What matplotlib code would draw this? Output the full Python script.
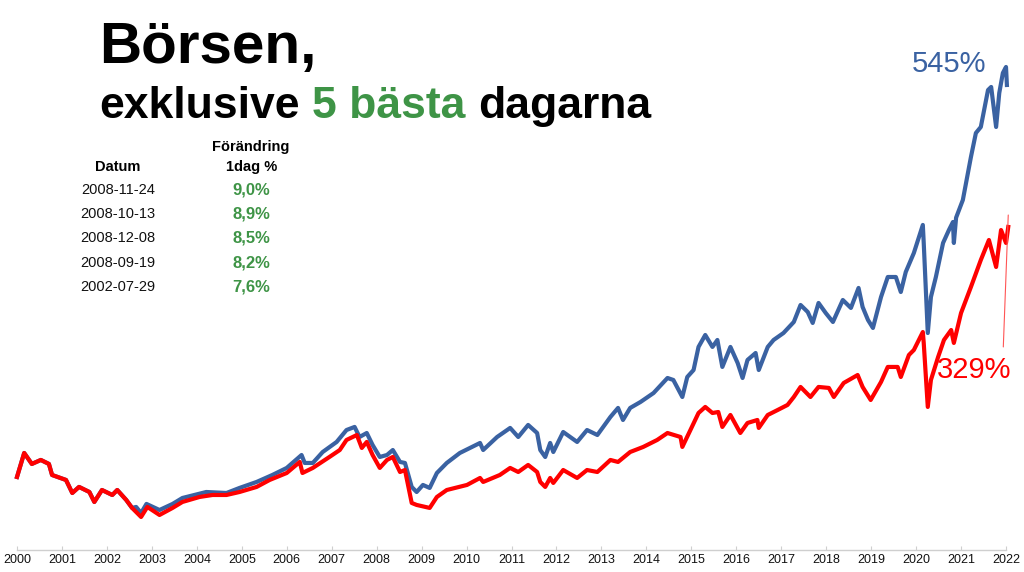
import numpy as np
import matplotlib.pyplot as plt

plt.rcParams['font.family'] = ['Liberation Sans', 'DejaVu Sans']

# index, 2003 low = 100
red_year = [2000.00, 2000.16, 2000.33, 2000.53, 2000.71, 2000.78, 2001.09, 2001.23, 2001.38, 2001.61,
            2001.72, 2001.89, 2002.12, 2002.23, 2002.43, 2002.56, 2002.76, 2002.90, 2003.17, 2003.46,
            2003.68, 2004.06, 2004.35, 2004.66, 2004.95, 2005.33, 2005.62, 2006.00, 2006.29, 2006.35,
            2006.58, 2006.95, 2007.18, 2007.33, 2007.56, 2007.67, 2007.78, 2007.91, 2008.07, 2008.23,
            2008.36, 2008.52, 2008.63, 2008.78, 2008.89, 2009.18, 2009.34, 2009.56, 2010.01, 2010.30,
            2010.37, 2010.74, 2010.97, 2011.15, 2011.37, 2011.57, 2011.64, 2011.75, 2011.86, 2011.93,
            2012.15, 2012.46, 2012.68, 2012.91, 2013.20, 2013.37, 2013.64, 2013.93, 2014.24, 2014.47,
            2014.76, 2014.80, 2014.98, 2015.16, 2015.31, 2015.47, 2015.60, 2015.69, 2015.87, 2016.09,
            2016.25, 2016.47, 2016.50, 2016.70, 2016.92, 2017.14, 2017.28, 2017.43, 2017.65, 2017.83,
            2018.06, 2018.17, 2018.39, 2018.70, 2018.81, 2018.99, 2019.22, 2019.37, 2019.59, 2019.66,
            2019.84, 2019.95, 2020.15, 2020.17, 2020.26, 2020.33, 2020.49, 2020.62, 2020.78, 2020.84,
            2021.00, 2021.22, 2021.44, 2021.62, 2021.78, 2021.89, 2022.00, 2022.05]
red_val = [145.8, 174.7, 161.5, 166.3, 161.5, 148.2, 142.2, 126.5, 133.8, 127.7,
           115.7, 130.1, 124.1, 130.1, 118.1, 108.5, 97.6, 109.7, 100.0, 108.5,
           115.7, 121.7, 124.1, 124.1, 127.7, 133.8, 142.2, 150.6, 163.9, 150.6,
           156.7, 169.9, 178.3, 190.4, 196.4, 180.8, 188.0, 172.3, 156.7, 166.3,
           169.9, 151.8, 154.2, 114.5, 112.1, 108.5, 121.7, 130.1, 136.2, 144.6,
           139.8, 148.2, 156.7, 151.8, 160.3, 151.8, 139.8, 133.8, 144.6, 138.6,
           154.2, 144.6, 154.2, 151.8, 166.3, 163.9, 175.9, 182.0, 190.4, 198.8,
           194.0, 182.0, 202.4, 222.9, 230.2, 222.9, 224.1, 206.1, 220.5, 198.8,
           210.9, 214.5, 204.9, 220.5, 226.5, 232.6, 242.2, 254.3, 242.2, 254.3,
           253.1, 242.2, 259.1, 268.7, 254.3, 238.6, 260.3, 278.4, 278.4, 266.3,
           292.8, 298.8, 320.5, 307.3, 230.2, 262.7, 290.4, 310.9, 322.9, 307.3,
           343.4, 374.8, 407.3, 431.4, 398.9, 443.4, 427.8, 447.1]

blue_year = [2000.00, 2000.16, 2000.33, 2000.53, 2000.71, 2000.78, 2001.09, 2001.23, 2001.38, 2001.61,
             2001.72, 2001.89, 2002.12, 2002.23, 2002.43, 2002.56, 2002.65, 2002.76, 2002.88, 2003.17,
             2003.46, 2003.68, 2004.21, 2004.66, 2004.95, 2005.33, 2005.68, 2006.00, 2006.33, 2006.40,
             2006.58, 2006.80, 2007.11, 2007.33, 2007.51, 2007.62, 2007.78, 2007.91, 2008.07, 2008.23,
             2008.36, 2008.52, 2008.63, 2008.78, 2008.89, 2009.03, 2009.18, 2009.34, 2009.56, 2009.85,
             2010.30, 2010.37, 2010.68, 2010.97, 2011.15, 2011.37, 2011.57, 2011.64, 2011.75, 2011.86,
             2011.93, 2012.15, 2012.46, 2012.68, 2012.91, 2013.20, 2013.37, 2013.48, 2013.64, 2013.87,
             2014.16, 2014.47, 2014.60, 2014.80, 2014.91, 2015.05, 2015.16, 2015.31, 2015.47, 2015.58,
             2015.69, 2015.87, 2016.03, 2016.14, 2016.25, 2016.43, 2016.50, 2016.70, 2016.83, 2017.05,
             2017.28, 2017.43, 2017.59, 2017.70, 2017.83, 2017.99, 2018.15, 2018.37, 2018.55, 2018.72,
             2018.81, 2018.93, 2019.04, 2019.22, 2019.37, 2019.55, 2019.66, 2019.77, 2019.95, 2020.15,
             2020.17, 2020.26, 2020.33, 2020.44, 2020.60, 2020.73, 2020.82, 2020.84, 2020.89, 2021.04,
             2021.22, 2021.33, 2021.44, 2021.60, 2021.67, 2021.78, 2021.85, 2021.93, 2022.00, 2022.02]
blue_val = [145.8, 174.7, 161.5, 166.3, 161.5, 148.2, 142.2, 126.5, 133.8, 127.7,
            115.7, 130.1, 124.1, 130.1, 118.1, 108.5, 109.7, 102.4, 113.3, 106.0,
            113.3, 120.5, 127.7, 126.5, 132.6, 139.8, 148.2, 156.7, 172.3, 162.7,
            162.7, 175.9, 188.0, 202.4, 206.1, 194.0, 198.8, 184.4, 169.9, 172.3,
            178.3, 163.9, 162.7, 133.8, 127.7, 136.2, 132.6, 150.6, 162.7, 174.7,
            186.8, 178.3, 194.0, 204.9, 194.0, 208.5, 198.8, 178.3, 169.9, 186.8,
            175.9, 200.0, 188.0, 202.4, 196.4, 218.1, 229.0, 214.5, 229.0, 236.2,
            247.0, 265.1, 262.7, 242.2, 266.3, 274.7, 302.5, 316.9, 302.5, 310.9,
            278.4, 302.5, 283.2, 265.1, 286.8, 295.2, 274.7, 302.5, 310.9, 319.3,
            332.6, 353.1, 344.6, 331.4, 355.5, 343.4, 332.6, 359.1, 349.5, 373.6,
            350.7, 335.0, 325.4, 362.7, 386.8, 386.8, 368.7, 392.8, 415.7, 449.5,
            427.8, 319.3, 362.7, 386.8, 427.8, 443.4, 453.1, 427.8, 458.3, 479.6,
            531.4, 560.3, 567.6, 612.1, 615.8, 567.6, 608.5, 632.6, 639.9, 618.2]

years = list(range(2000, 2023))
datum = ['2008-11-24', '2008-10-13', '2008-12-08', '2008-09-19', '2002-07-29']
forandring = ['9,0%', '8,9%', '8,5%', '8,2%', '7,6%']

blue = '#3A62A2'
red = '#FF0000'
green = '#3E9446'

W, H = 1024, 572
fig = plt.figure(figsize=(W / 100, H / 100), dpi=100)
ax = fig.add_axes([17 / W, 22 / H, 989 / W, 510 / H])

ax.plot(blue_year, blue_val, color=blue, lw=3.0, clip_on=False, solid_joinstyle='round')
ax.plot(red_year, red_val, color=red, lw=3.0, clip_on=False, solid_joinstyle='round')

ax.set_xlim(2000, 2022)
ax.set_ylim(57.8, 672.4)
for s in ['left', 'right', 'top']:
    ax.spines[s].set_visible(False)
ax.spines['bottom'].set_color('#cfcfcf')
ax.spines['bottom'].set_linewidth(1)
ax.set_yticks([])
ax.set_xticks(years)
ax.set_xticklabels([str(y) for y in years])
ax.tick_params(axis='x', direction='in', length=3, width=0.8, color='#cfcfcf',
               labelsize=9, labelcolor='#111111', pad=3)

# leader line for the red end label
ax.annotate('', xy=(2021.94, 302.5), xytext=(2022.05, 461.5),
            arrowprops=dict(arrowstyle='-', color='#ff5555', lw=0.8,
                            shrinkA=0, shrinkB=0), annotation_clip=False)

def fx(x):
    return x / W

def fy(y):
    return 1 - y / H

# title
fig.text(fx(99), fy(63), 'Börsen,', fontsize=42, fontweight='bold', va='baseline')
t1 = fig.text(fx(99), fy(118), 'exklusive', fontsize=32, fontweight='bold', va='baseline')
t2 = ax.annotate('5 bästa', xy=(1, 0), xycoords=t1, xytext=(9, 0), textcoords='offset points',
                 fontsize=32, fontweight='bold', color=green, va='bottom', ha='left',
                 annotation_clip=False)
ax.annotate('dagarna', xy=(1, 0), xycoords=t2, xytext=(9, 0), textcoords='offset points',
            fontsize=32, fontweight='bold', va='bottom', ha='left', annotation_clip=False)

# table
fig.text(fx(118), fy(167), 'Datum', fontsize=10.5, fontweight='bold', ha='center', va='center')
fig.text(fx(251), fy(147), 'Förändring', fontsize=10.5, fontweight='bold', ha='center', va='center')
fig.text(fx(252), fy(167), '1dag %', fontsize=10.5, fontweight='bold', ha='center', va='center')
for i, (d, f) in enumerate(zip(datum, forandring)):
    y = 190 + i * 24.2
    fig.text(fx(118), fy(y), d, fontsize=10.5, ha='center', va='center', color='#111111')
    fig.text(fx(251), fy(y), f, fontsize=12, fontweight='bold', ha='center', va='center', color=green)

# end labels
fig.text(fx(912), fy(72), '545%', fontsize=21, color=blue, va='baseline')
fig.text(fx(937), fy(378), '329%', fontsize=21, color=red, va='baseline')

fig.savefig('out.png', dpi=100)
